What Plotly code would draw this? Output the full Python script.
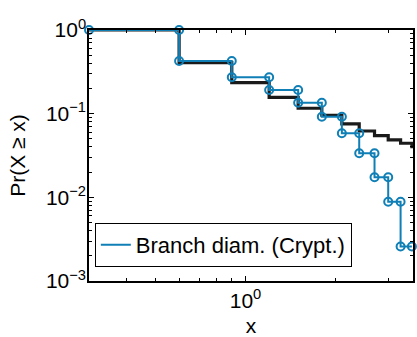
import plotly.graph_objects as go

# Bin edges (x) and empirical CCDF levels
x_edges = [0.3, 0.6, 0.9, 1.2, 1.5, 1.8, 2.1, 2.4, 2.7, 3.0, 3.3, 3.6]
blue_levels = [1.0, 0.426, 0.272, 0.192, 0.135, 0.092, 0.0582, 0.0336, 0.0174, 0.00887, 0.00258]

# Fitted CCDF (black) levels on the same edges, last extends beyond
black_x = [0.3, 0.6, 0.9, 1.2, 1.5, 1.8, 2.1, 2.4, 2.7, 3.0, 3.3, 3.6, 4.0]
black_levels = [1.0, 0.407, 0.235, 0.157, 0.116, 0.0957, 0.0753, 0.0621, 0.0546, 0.0485, 0.0443, 0.0403]

legend_label = "Branch diam. (Crypt.)"
blue = "#0F7FB6"


def steps(edges, levels):
    xs, ys = [], []
    for i, lv in enumerate(levels):
        xs += [edges[i], edges[i + 1]]
        ys += [lv, lv]
    return xs, ys


bx, by = steps(x_edges, blue_levels)
kx, ky = steps(black_x, black_levels)

fig = go.Figure()
fig.add_trace(go.Scatter(x=kx, y=ky, mode="lines", line=dict(color="#1a1a1a", width=3.2),
                         showlegend=False, hoverinfo="skip"))
fig.add_trace(go.Scatter(x=bx, y=by, mode="lines", line=dict(color=blue, width=2),
                         name=legend_label, showlegend=True))
fig.add_trace(go.Scatter(x=bx, y=by, mode="markers", cliponaxis=False,
                         marker=dict(symbol="circle-open", size=8, color=blue, line=dict(width=2)),
                         showlegend=False))

font = "Liberation Sans, Arial, sans-serif"
fig.update_layout(
    width=417, height=337,
    margin=dict(l=89, r=4, t=30, b=56),
    paper_bgcolor="white", plot_bgcolor="white",
    font=dict(family=font, size=21, color="black"),
    showlegend=True,
    legend=dict(x=0.018, y=0.056, xanchor="left", yanchor="bottom",
                bordercolor="black", borderwidth=1, bgcolor="white",
                font=dict(size=22), itemwidth=30, tracegroupgap=0),
    xaxis=dict(type="log", range=[-0.523, 0.56], showgrid=False, zeroline=False,
               automargin=False,
               showline=True, linecolor="black", linewidth=1.5, mirror="allticks",
               ticks="inside", ticklen=5, tickcolor="black",
               tickvals=[1], ticktext=["10<sup>0</sup>"],
               minor=dict(dtick="D1", ticks="inside", ticklen=3, tickcolor="black", showgrid=False),
               title=dict(text="x", font=dict(size=21))),
    yaxis=dict(type="log", range=[-3, 0], showgrid=False, zeroline=False,
               automargin=False,
               showline=True, linecolor="black", linewidth=1.5, mirror="allticks",
               ticks="inside", ticklen=5, tickcolor="black", ticklabelstandoff=-3,
               tickvals=[1, 0.1, 0.01, 0.001],
               ticktext=["10<sup>0</sup>", "10<sup>−1</sup>", "10<sup>−2</sup>", "10<sup>−3</sup>"],
               minor=dict(dtick="D1", ticks="inside", ticklen=3, tickcolor="black", showgrid=False),
               title=dict(text="Pr(X ≥ x)", font=dict(size=21))),
)

fig.write_html("out.html", config={"displayModeBar": False},
               post_script="document.body.style.margin='0';document.body.style.padding='0';")
